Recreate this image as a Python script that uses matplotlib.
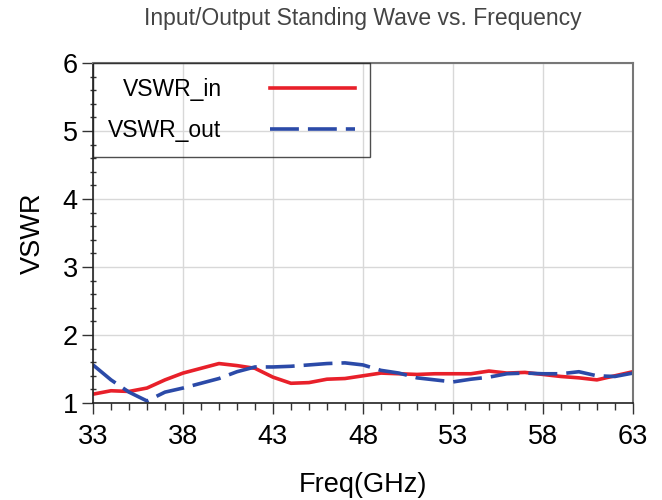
import matplotlib
matplotlib.use("Agg")
import matplotlib.pyplot as plt
from matplotlib.ticker import MultipleLocator

# frequency points (GHz)
freq = list(range(33, 64))

# input VSWR
vswr_in = [1.13, 1.18, 1.17, 1.22, 1.34, 1.44, 1.51, 1.58, 1.55, 1.51,
           1.38, 1.29, 1.30, 1.35, 1.36, 1.40, 1.44, 1.43, 1.42, 1.43,
           1.43, 1.43, 1.47, 1.44, 1.45, 1.42, 1.39, 1.37, 1.34, 1.40, 1.46]

# output VSWR
vswr_out = [1.56, 1.34, 1.16, 1.03, 1.16, 1.22, 1.29, 1.36, 1.46, 1.53,
            1.53, 1.54, 1.56, 1.58, 1.59, 1.56, 1.48, 1.44, 1.37, 1.34,
            1.31, 1.35, 1.38, 1.43, 1.44, 1.43, 1.43, 1.46, 1.40, 1.39, 1.44]

x_ticks = [33, 38, 43, 48, 53, 58, 63]

plt.rcParams['font.family'] = ['Liberation Sans', 'DejaVu Sans']

fig = plt.figure(figsize=(6.62, 5), dpi=100)
ax = fig.add_axes([0.1405, 0.194, 0.8155, 0.68])

ax.plot(freq, vswr_in, color='#e8202a', lw=2.6, label='VSWR_in')
ax.plot(freq, vswr_out, color='#2b4aa8', lw=2.6, dashes=(8, 2.5), label='VSWR_out')

ax.set_xlim(33, 63)
ax.set_ylim(1, 6)
ax.set_xticks(x_ticks)
ax.set_yticks([1, 2, 3, 4, 5, 6])
ax.xaxis.set_minor_locator(MultipleLocator(1))
ax.yaxis.set_minor_locator(MultipleLocator(0.2))

ax.grid(True, which='major', color='#d8d8d8', lw=1)
ax.set_axisbelow(True)

ax.tick_params(axis='both', which='major', labelsize=19.5, length=8, width=1, color='#333333')
ax.tick_params(axis='x', which='major', pad=7)
ax.tick_params(axis='y', which='major', pad=3)
ax.tick_params(axis='x', which='minor', length=5, width=1, color='#333333')
ax.tick_params(axis='y', which='minor', length=4, width=1, color='#333333', direction='inout')

for s in ['left', 'bottom']:
    ax.spines[s].set_color('#222222')
    ax.spines[s].set_linewidth(1.2)
for s in ['top', 'right']:
    ax.spines[s].set_color('#777777')
    ax.spines[s].set_linewidth(1.5)

ax.set_xlabel('Freq(GHz)', fontsize=19.5, labelpad=16)
ax.set_ylabel('VSWR', fontsize=19.5, labelpad=12)
fig.text(0.1405 + 0.8155 / 2, 0.962, 'Input/Output Standing Wave vs. Frequency',
         fontsize=16.5, color='#444444', ha='center', va='center')

leg = ax.legend(loc='upper left', bbox_to_anchor=(0, 1), fontsize=16.5, frameon=True,
                fancybox=False, edgecolor='#222222', facecolor='none',
                handlelength=3.7, handletextpad=2.1, borderpad=0.67, labelspacing=0.75,
                borderaxespad=0, markerfirst=False)
leg.get_frame().set_linewidth(1)

fig.savefig('out.png', dpi=100)
